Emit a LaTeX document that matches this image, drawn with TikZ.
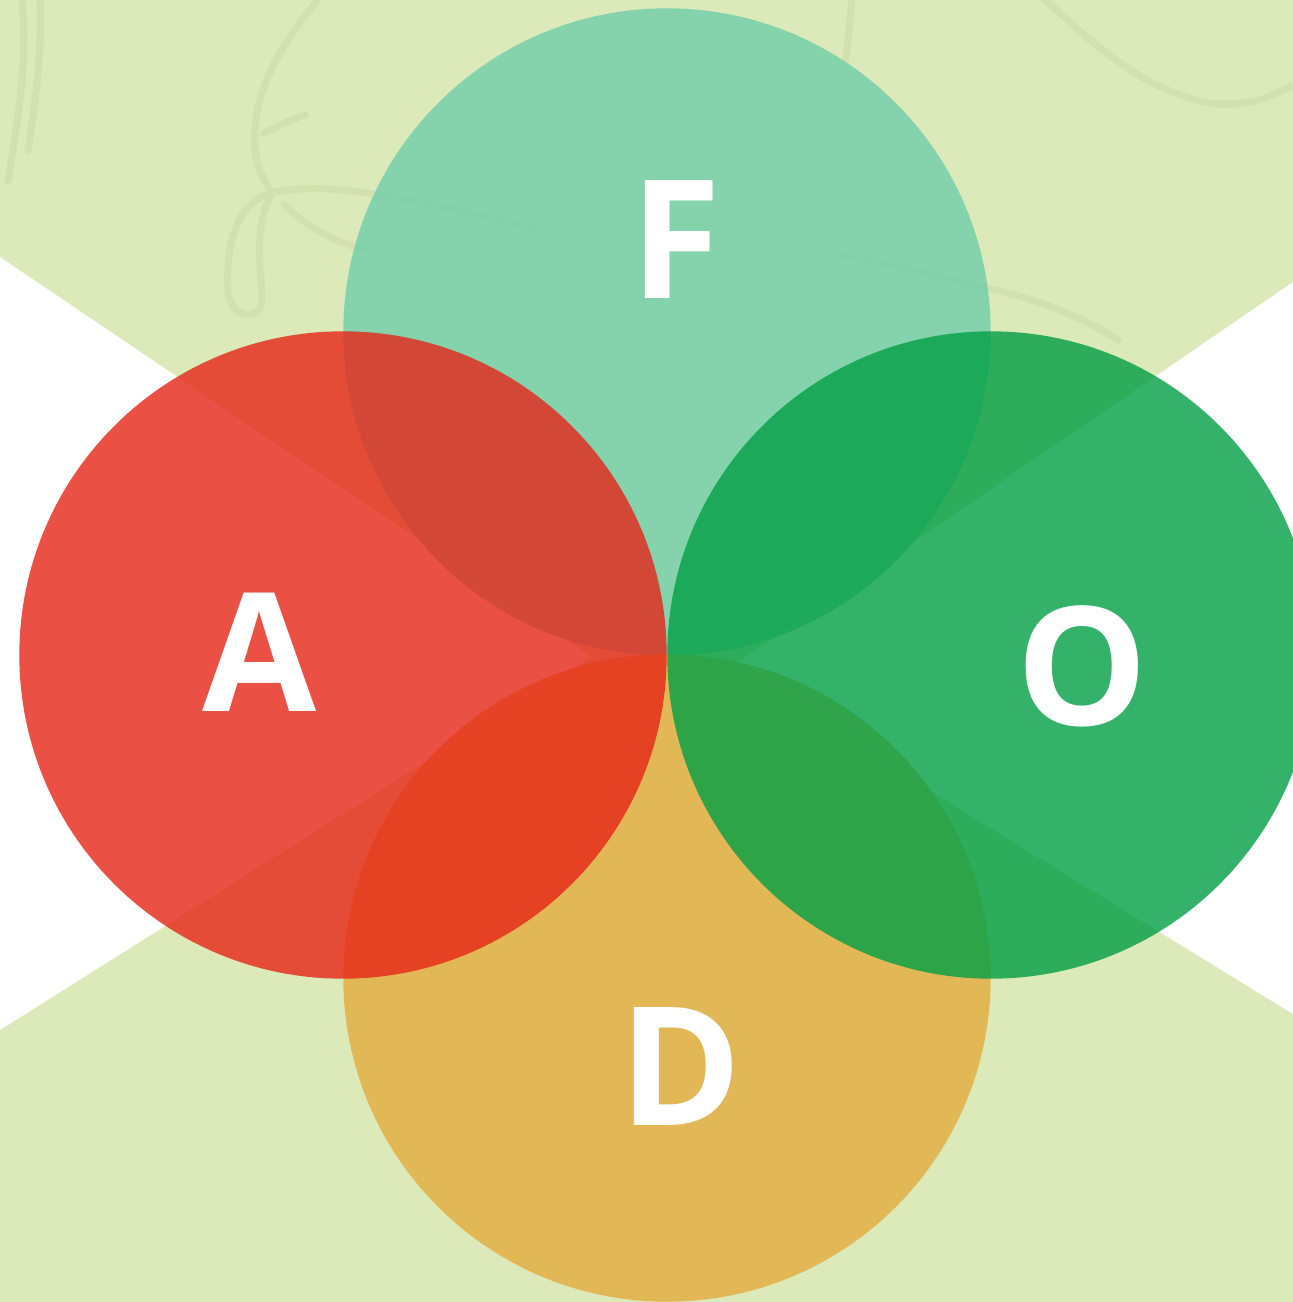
\documentclass[tikz,border=0pt]{standalone}
\usepackage{fontspec}
\setmainfont{Open Sans}
\definecolor{bggreen}{HTML}{DCE9B9}
\definecolor{sketchc}{HTML}{D2E1AD}
\definecolor{cF}{HTML}{6ECEAB}
\definecolor{cA}{HTML}{E62517}
\definecolor{cO}{HTML}{029F45}
\definecolor{cD}{HTML}{E4AC3F}
\tikzset{
  disc/.style={circle, inner sep=0pt, minimum size=6.47cm, fill opacity=0.8, draw=none},
  letter/.style={text=white, inner sep=0pt, font=\fontsize{47}{47}\selectfont\bfseries},
  sketch/.style={draw=sketchc, line width=0.07cm, line cap=round},
}
\begin{document}
\begin{tikzpicture}[x=0.01cm, y=-0.01cm]
\useasboundingbox (0,0) rectangle (1293,1302);
\clip (0,0) rectangle (1293,1302);
% background
\fill[bggreen] (0,0) rectangle (1293,1302);
\fill[white] (0,257) -- (592,657) -- (0,1030) -- cycle;
\fill[white] (1293,282) -- (730,668) -- (1293,1014) -- cycle;
% faint sketch lines
\draw[sketch] (22,0) .. controls (28,60) and (18,120) .. (8,180);
\draw[sketch] (40,0) .. controls (42,50) and (36,100) .. (28,150);
\draw[sketch] (318,0) .. controls (285,40) and (250,90) .. (255,150) .. controls (258,175) and (268,185) .. (272,193);
\draw[sketch] (264,133) .. controls (280,125) and (295,118) .. (305,115);
\draw[sketch] (272,193) .. controls (240,200) and (225,240) .. (228,290) .. controls (230,322) and (262,320) .. (262,300) .. controls (262,270) and (252,230) .. (272,193);
\draw[sketch] (270,193) .. controls (300,186) and (340,188) .. (380,195) .. controls (430,203) and (480,215) .. (540,230);
\draw[sketch] (285,205) .. controls (305,225) and (330,240) .. (365,250);
\draw[sketch] (852,0) .. controls (850,20) and (848,40) .. (846,60);
\draw[sketch] (1045,0) .. controls (1090,40) and (1140,90) .. (1210,103) .. controls (1250,108) and (1275,95) .. (1293,85);
\draw[sketch] (840,255) .. controls (900,265) and (950,280) .. (985,288) .. controls (1030,297) and (1080,315) .. (1118,340);
% circles
\node[disc, fill=cF] (F) at (667,332) {};
\node[disc, fill=cD] (D) at (667,978) {};
\node[disc, fill=cA] (A) at (343,655) {};
\node[disc, fill=cO] (O) at (991,655) {};
% letters
\node[letter] (lF) at (676,239) {F};
\node[letter] (lA) at (260,652) {A};
\node[letter] (lO) at (1082,666) {O};
\node[letter] (lD) at (681,1066) {D};
\end{tikzpicture}
\end{document}
